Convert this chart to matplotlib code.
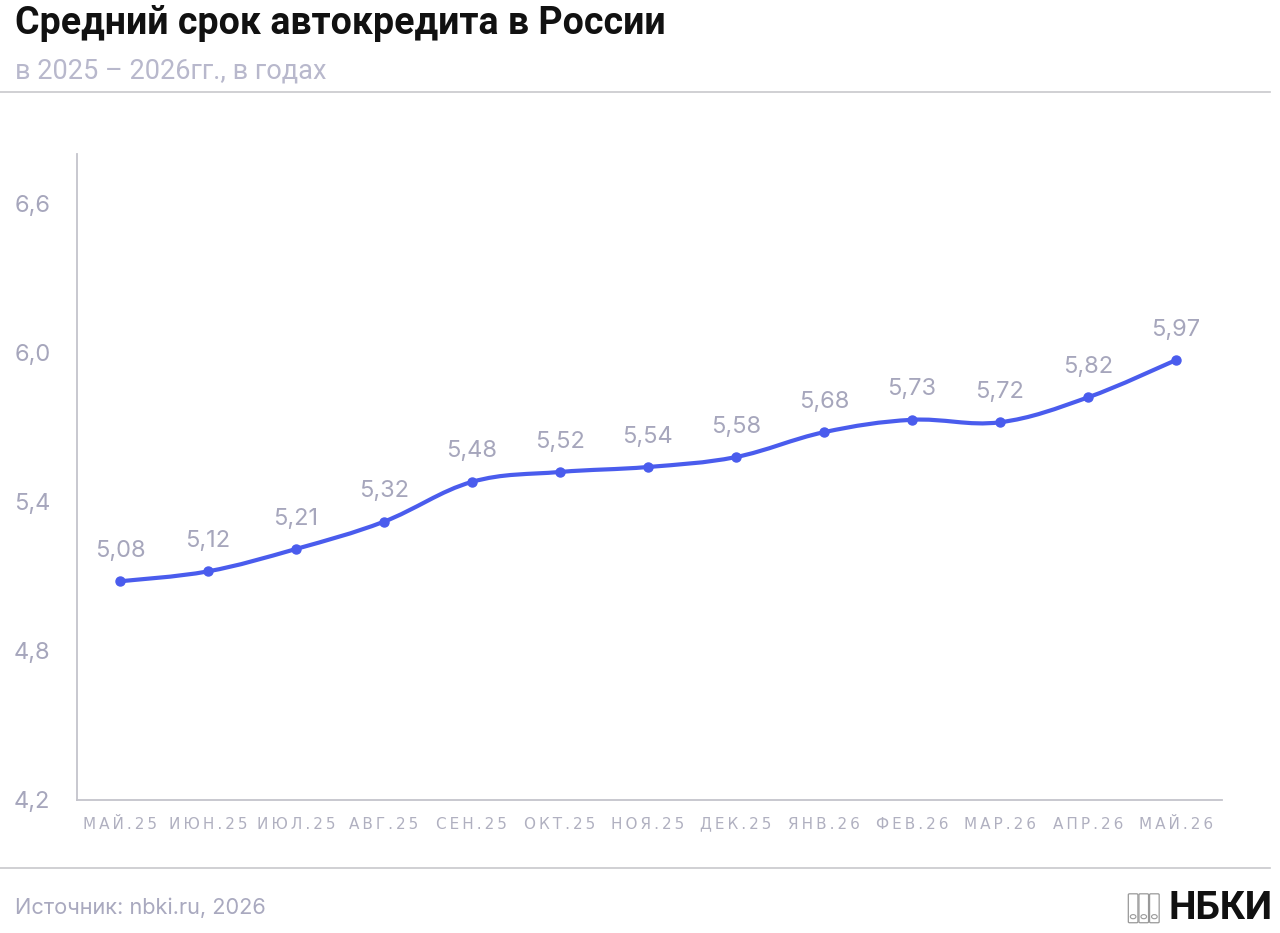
import matplotlib.pyplot as plt
import numpy as np
from matplotlib.path import Path
from matplotlib.patches import PathPatch, FancyBboxPatch, Circle
from matplotlib.lines import Line2D

months = ['МАЙ.25', 'ИЮН.25', 'ИЮЛ.25', 'АВГ.25', 'СЕН.25', 'ОКТ.25', 'НОЯ.25',
          'ДЕК.25', 'ЯНВ.26', 'ФЕВ.26', 'МАР.26', 'АПР.26', 'МАЙ.26']
term = [5.08, 5.12, 5.21, 5.32, 5.48, 5.52, 5.54, 5.58, 5.68, 5.73, 5.72, 5.82, 5.97]
yticks = [4.2, 4.8, 5.4, 6.0, 6.6]

blue = '#4a5ced'
grey_txt = '#a6a6bc'
axis_col = '#c4c4cc'

plt.rcParams['font.family'] = ['Roboto', 'DejaVu Sans']


def smooth_path(x, y, t=0.18):
    # cubic bezier through the points (catmull-rom style handles)
    verts = [(x[0], y[0])]
    codes = [Path.MOVETO]
    n = len(x)
    for i in range(n - 1):
        x0, y0 = x[max(i - 1, 0)], y[max(i - 1, 0)]
        x1, y1 = x[i], y[i]
        x2, y2 = x[i + 1], y[i + 1]
        x3, y3 = x[min(i + 2, n - 1)], y[min(i + 2, n - 1)]
        c1 = (x1 + (x2 - x0) * t, y1 + (y2 - y0) * t)
        c2 = (x2 - (x3 - x1) * t, y2 - (y3 - y1) * t)
        verts += [c1, c2, (x2, y2)]
        codes += [Path.CURVE4] * 3
    return Path(verts, codes)


def spaced(s):
    return '\u2009'.join(s)


fig = plt.figure(figsize=(12.8, 9.33), dpi=100)
ax = fig.add_axes([0.060, 0.1426, 0.895, 0.6924])

x = np.arange(len(term))
ax.add_patch(PathPatch(smooth_path(x, term), facecolor='none', edgecolor=blue,
                       linewidth=3.0, capstyle='round', zorder=3))
ax.plot(x, term, 'o', color=blue, markersize=6.5, zorder=4)

for xi, v in zip(x, term):
    ax.annotate(('%.2f' % v).replace('.', ','), (xi, v), xytext=(0, 14),
                textcoords='offset points', ha='center', va='bottom',
                fontsize=17, fontfamily='Inter', color=grey_txt)

ax.set_xlim(-0.49, 12.53)
ax.set_ylim(4.2, 6.8)
ax.set_yticks(yticks)
ax.set_yticklabels([('%.1f' % v).replace('.', ',') for v in yticks],
                   fontfamily='Inter')
ax.set_xticks(x)
ax.set_xticklabels([spaced(m) for m in months], fontfamily='DejaVu Sans', fontsize=11)
ax.tick_params(axis='y', length=0, pad=19, labelsize=17, labelcolor=grey_txt)
ax.tick_params(axis='x', length=0, pad=12, labelcolor='#b0b0c0')
for s in ['top', 'right']:
    ax.spines[s].set_visible(False)
for s in ['left', 'bottom']:
    ax.spines[s].set_color(axis_col)
    ax.spines[s].set_linewidth(1.3)

fig.text(0.012, 0.975, 'Средний срок автокредита в России', fontsize=27,
         fontweight='bold', color='#111111', va='center', ha='left')
fig.text(0.012, 0.924, 'в 2025 – 2026гг., в годах', fontsize=19.5,
         color='#b8b8cc', va='center', ha='left')
fig.add_artist(Line2D([0.0, 0.992], [0.901, 0.901], color='#c8c8cc', linewidth=1.2))
fig.add_artist(Line2D([0.0, 0.992], [0.070, 0.070], color='#c8c8cc', linewidth=1.2))
fig.text(0.012, 0.027, 'Источник: nbki.ru, 2026', fontsize=15.7, fontfamily='Inter',
         color='#a9a9bf', va='center', ha='left')

# logo
fig.text(0.994, 0.026, 'НБКИ', fontsize=28, fontweight='bold', color='#111111',
         va='center', ha='right')
for k in range(3):
    x0 = 0.8815 + k * 0.0083
    fig.add_artist(FancyBboxPatch((x0, 0.011), 0.0075, 0.031,
                                  boxstyle='round,pad=0,rounding_size=0.001',
                                  transform=fig.transFigure, facecolor='none',
                                  edgecolor='#999999', linewidth=0.9))
    fig.add_artist(Circle((x0 + 0.00375, 0.0175), 0.0022, transform=fig.transFigure,
                          facecolor='none', edgecolor='#999999', linewidth=0.8))

plt.savefig('out.png', dpi=100, facecolor='white')
